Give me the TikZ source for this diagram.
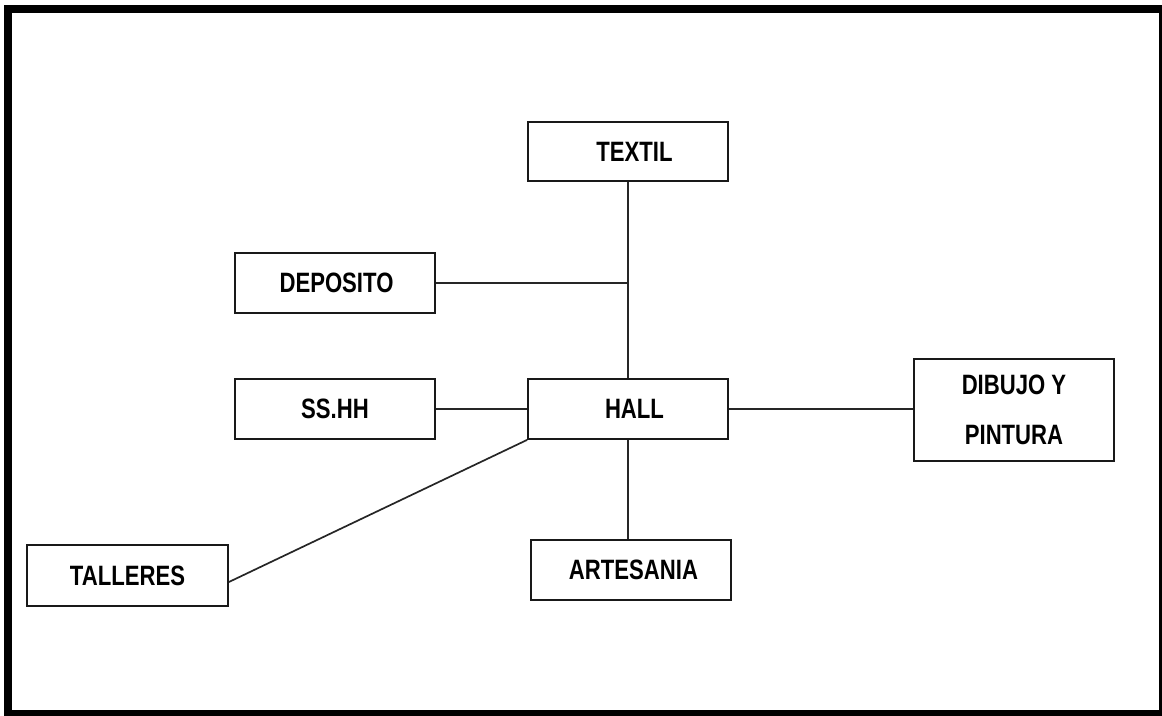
\documentclass[tikz,border=0pt]{standalone}
\usepackage{fontspec}
\setmainfont{Liberation Sans}[FakeStretch=0.79]
\begin{document}
\begin{tikzpicture}[x=1pt,y=-1pt,
  box/.style={draw=black!90, line width=1.8pt, minimum width=200pt, minimum height=60pt,
    inner sep=0pt, font=\fontsize{28}{50}\selectfont\bfseries, align=center},
  conn/.style={draw=black!85, line width=1.7pt}]
\useasboundingbox (0,0) rectangle (1162,715);
\draw[line width=8pt] (8,9) rectangle (1163,714);
\node[box, minimum height=59pt] (textil) at (628,151.5) {\hspace*{13pt}TEXTIL};
\node[box] (deposito) at (335,283) {\hspace*{3pt}DEPOSITO};
\node[box] (sshh) at (335,409) {SS.HH};
\node[box] (hall) at (628,409) {\hspace*{13pt}HALL};
\node[box, minimum height=102pt] (dibujo) at (1014,410) {DIBUJO Y\\PINTURA};
\node[box, minimum width=201pt, minimum height=61pt] (talleres) at (127.5,575.5) {TALLERES};
\node[box] (artesania) at (631,570) {\hspace*{5pt}ARTESANIA};
\draw[conn] (textil.south) -- (hall.north);
\draw[conn] (deposito.east) -- (deposito.east -| hall.north);
\draw[conn] (sshh.east) -- (hall.west);
\draw[conn] (hall.east) -- (hall.east -| dibujo.west);
\draw[conn] (hall.south) -- (hall.south |- artesania.north);
\draw[conn] ([yshift=-6.5pt]talleres.east) -- (hall.south west);
\end{tikzpicture}
\end{document}
